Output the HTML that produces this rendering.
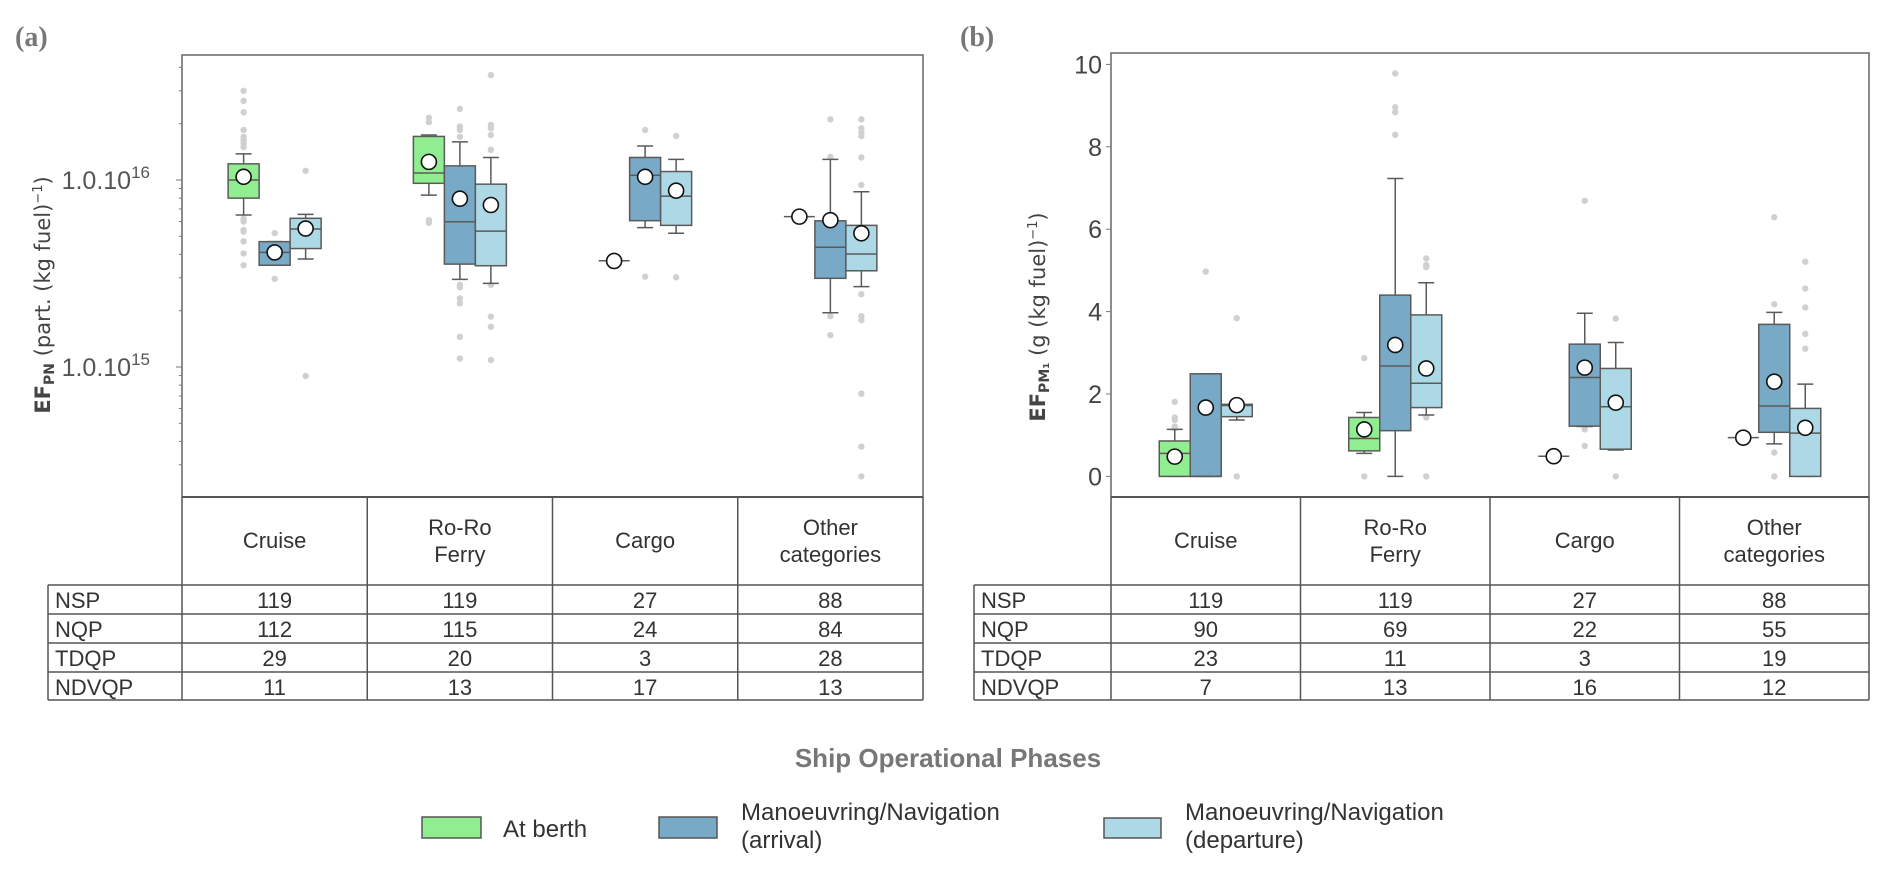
<!DOCTYPE html>
<html><head><meta charset="utf-8"><title>EF boxplots</title>
<style>
html,body{margin:0;padding:0;background:#fff;}
svg{display:block;font-family:"Liberation Sans Narrow","Liberation Sans",sans-serif;}
</style></head>
<body>
<svg id="chart" width="1892" height="876" viewBox="0 0 1892 876" xmlns="http://www.w3.org/2000/svg">
<rect x="0" y="0" width="1892" height="876" fill="#fff"/>
<text x="15" y="46" font-family="Liberation Serif,serif" font-weight="bold" font-size="28" fill="#777">(a)</text>
<text x="960" y="46" font-family="Liberation Serif,serif" font-weight="bold" font-size="28" fill="#777">(b)</text>
<g id="pa"></g>
<g id="pb"></g>
<text transform="translate(50,295) rotate(-90)" text-anchor="middle" font-family="DejaVu Sans,sans-serif" font-size="21" fill="#444"><tspan font-weight="bold">EF</tspan><tspan font-weight="bold" font-size="14" dy="4">PN</tspan><tspan dy="-4"> (part. (kg fuel)</tspan><tspan font-size="13" dy="-8">−1</tspan><tspan dy="8">)</tspan></text>
<text transform="translate(1045,317) rotate(-90)" text-anchor="middle" font-family="DejaVu Sans,sans-serif" font-size="21" fill="#444"><tspan font-weight="bold">EF</tspan><tspan font-weight="bold" font-size="14" dy="4">PM₁</tspan><tspan dy="-4"> (g (kg fuel)</tspan><tspan font-size="13" dy="-8">−1</tspan><tspan dy="8">)</tspan></text>
<text x="948" y="767" text-anchor="middle" font-weight="bold" font-size="26" fill="#777">Ship Operational Phases</text>
<g>
<rect x="422" y="817" width="59" height="21" fill="#90ee90" stroke="#555" stroke-width="1.5"/>
<text x="503" y="837" font-size="24" fill="#333">At berth</text>
<rect x="659" y="817" width="58" height="21" fill="#78a9c6" stroke="#555" stroke-width="1.5"/>
<text x="741" y="820" font-size="24" fill="#333">Manoeuvring/Navigation</text>
<text x="741" y="848" font-size="24" fill="#333">(arrival)</text>
<rect x="1104" y="818" width="57" height="20" fill="#add8e6" stroke="#555" stroke-width="1.5"/>
<text x="1185" y="820" font-size="24" fill="#333">Manoeuvring/Navigation</text>
<text x="1185" y="848" font-size="24" fill="#333">(departure)</text>
</g>
</svg>
<script>
// ---- categories / table data ----
const categories = [["Cruise"],["Ro-Ro","Ferry"],["Cargo"],["Other","categories"]];
const rowLabels = ["NSP","NQP","TDQP","NDVQP"];
const tableA = [[119,119,27,88],[112,115,24,84],[29,20,3,28],[11,13,17,13]];
const tableB = [[119,119,27,88],[90,69,22,55],[23,11,3,19],[7,13,16,12]];
// ---- panel a: [wLo, q1, median, q3, wHi, mean] per category ----
const aBerth = [[6.5e15,8.0e15,1.0e16,1.22e16,1.38e16,1.04e16],[8.3e15,9.6e15,1.09e16,1.71e16,1.74e16,1.25e16],[3.7e15,3.7e15,3.7e15,3.7e15,3.7e15,3.69e15],[6.37e15,6.37e15,6.37e15,6.37e15,6.37e15,6.37e15]];
const aArrival = [[3.5e15,3.5e15,4.1e15,4.68e15,4.68e15,4.1e15],[2.94e15,3.55e15,5.98e15,1.19e16,1.6e16,7.94e15],[5.56e15,6.06e15,1.06e16,1.32e16,1.52e16,1.04e16],[1.95e15,2.98e15,4.37e15,6.05e15,1.29e16,6.1e15]];
const aDeparture = [[3.78e15,4.3e15,5.47e15,6.24e15,6.55e15,5.5e15],[2.8e15,3.48e15,5.33e15,9.5e15,1.32e16,7.35e15],[5.19e15,5.72e15,8.2e15,1.11e16,1.29e16,8.77e15],[2.69e15,3.27e15,4.02e15,5.72e15,8.65e15,5.19e15]];
const aBerthOut = [[3.0e16,2.65e16,2.3e16,1.85e16,1.7e16,1.64e16,1.57e16,1.5e16,6.2e15,6.0e15,5.4e15,5.3e15,4.7e15,4.05e15,3.5e15],[2.15e16,2.04e16,6.1e15,5.9e15],[],[]];
const aArrivalOut = [[5.2e15,2.96e15],[2.4e16,1.93e16,1.85e16,1.7e16,2.75e15,2.67e15,2.33e15,2.19e15,1.45e15,1.11e15],[1.85e16,3.04e15],[2.11e16,1.33e16,1.87e15,1.48e15]];
const aDepartureOut = [[1.12e16,8.95e14],[3.64e16,1.97e16,1.89e16,1.74e16,1.45e16,2.75e15,1.86e15,1.64e15,1.09e15],[1.72e16,3.02e15],[2.11e16,1.89e16,1.79e16,1.72e16,1.32e16,9.4e15,2.45e15,1.87e15,1.78e15,7.2e14,3.75e14,2.6e14]];
// ---- panel b ----
const bBerth = [[0,0,0.56,0.86,1.14,0.48],[0.56,0.62,0.92,1.43,1.55,1.14],[0.49,0.49,0.49,0.49,0.49,0.49],[0.94,0.94,0.94,0.94,0.94,0.94]];
const bArrival = [[0,0,0,2.49,2.49,1.67],[0,1.11,2.68,4.4,7.23,3.19],[1.21,1.22,2.4,3.21,3.96,2.64],[0.79,1.07,1.71,3.69,3.98,2.3]];
const bDeparture = [[1.37,1.45,1.72,1.75,1.75,1.73],[1.49,1.67,2.26,3.92,4.7,2.62],[0.64,0.66,1.69,2.62,3.25,1.79],[0,0,1.05,1.65,2.24,1.18]];
const bBerthOut = [[1.81,1.43,1.37,1.21,1.17],[2.87,0],[],[]];
const bArrivalOut = [[4.97],[9.78,8.96,8.84,8.29],[6.69,1.14,0.74],[6.29,4.18,0.58,0]];
const bDepartureOut = [[3.84,0],[5.29,5.13,5.08,1.43,0],[3.83,0],[5.21,4.56,4.1,3.46,3.1]];
const bTicks = [0,2,4,6,8,10];
const aTicks = [1e15,1e16];

const NS="http://www.w3.org/2000/svg";
function el(parent,tag,attrs){const e=document.createElementNS(NS,tag);for(const k in attrs)e.setAttribute(k,attrs[k]);parent.appendChild(e);return e;}
const colors=["#90ee90","#78a9c6","#add8e6"];
const seriesNames=["berth","arrival","departure"];
const BW=31, EDGE="#5a5a5a";

function panel(g,opt){
  const {left,right,top,bottom,rowLeft,yf,series,outs,table}=opt;
  const colW=(right-left)/4;
  const cx=i=>left+colW*(i+0.5);
  const fr=el(g,'rect',{x:left,y:top,width:right-left,height:bottom-top,fill:'none',stroke:'#666','stroke-width':1.5});
  
  
  for(let s=0;s<3;s++){
    for(let i=0;i<4;i++){
      const x=cx(i)+(s-1)*BW;
      outs[s][i].forEach(v=>{
        const c=el(g,'circle',{cx:x,cy:yf(v),r:3.2,fill:'#d0d0d0'});
        
        
      });
      const d=series[s][i]; if(!d) continue;
      const [wl,q1,md,q3,wh,mn]=d;
      const bg=el(g,'g',{});
      
      
      el(bg,'line',{x1:x,x2:x,y1:yf(q3),y2:yf(wh),stroke:EDGE,'stroke-width':1.5});
      el(bg,'line',{x1:x,x2:x,y1:yf(q1),y2:yf(wl),stroke:EDGE,'stroke-width':1.5});
      el(bg,'line',{x1:x-8,x2:x+8,y1:yf(wh),y2:yf(wh),stroke:EDGE,'stroke-width':1.5});
      el(bg,'line',{x1:x-8,x2:x+8,y1:yf(wl),y2:yf(wl),stroke:EDGE,'stroke-width':1.5});
      const h=Math.max(0,yf(q1)-yf(q3));
      if(h>0.5) el(bg,'rect',{x:x-BW/2,y:yf(q3),width:BW,height:h,fill:colors[s],stroke:EDGE,'stroke-width':1.5});
      el(bg,'line',{x1:x-BW/2,x2:x+BW/2,y1:yf(md),y2:yf(md),stroke:EDGE,'stroke-width':1.5});
      const m=el(bg,'ellipse',{cx:x,cy:yf(mn),rx:7.5,ry:7.5,fill:'#fff',stroke:'#111','stroke-width':1.6});
      
      
    }
  }
  const t=el(g,'g',{});
  
  
  const hb=585, rows=[585,614,643,672,700];
  el(t,'line',{x1:left,x2:right,y1:bottom,y2:bottom,stroke:'#555','stroke-width':2});
  for(let k=0;k<=4;k++) el(t,'line',{x1:left+colW*k,x2:left+colW*k,y1:bottom,y2:700,stroke:'#555','stroke-width':1.5});
  el(t,'line',{x1:rowLeft,x2:rowLeft,y1:hb,y2:700,stroke:'#555','stroke-width':1.5});
  rows.forEach(y=>el(t,'line',{x1:rowLeft,x2:right,y1:y,y2:y,stroke:'#555','stroke-width':1.5}));
  categories.forEach((c,i)=>{
    const tx=el(t,'text',{x:cx(i),'text-anchor':'middle','font-size':22,fill:'#333'});
    
    
    const y0=c.length==1?548:535;
    c.forEach((line,j)=>{const ts=el(tx,'tspan',{x:cx(i),y:y0+j*27});ts.textContent=line;});
  });
  rowLabels.forEach((r,k)=>{
    const yy=rows[k]+23;
    const lt=el(t,'text',{x:rowLeft+7,y:yy,'font-size':22,fill:'#333'});
    
    
    lt.textContent=r;
    table[k].forEach((v,i)=>{
      const vt=el(t,'text',{x:cx(i),y:yy,'text-anchor':'middle','font-size':22,fill:'#333'});
      
      
      vt.textContent=v;
    });
  });
}

// Panel A (log)
const ya=v=>180-187*Math.log10(v/1e16);
const gA=document.getElementById('pa');
panel(gA,{left:182,right:923,top:55,bottom:497,rowLeft:48,yf:ya,series:[aBerth,aArrival,aDeparture],outs:[aBerthOut,aArrivalOut,aDepartureOut],table:tableA});
for(let e=14;e<=16;e++){for(let m=1;m<10;m++){const v=m*Math.pow(10,e);const y=ya(v);if(y<55||y>497)continue;
  el(gA,'line',{x1:182,x2:m==1?176:179,y1:y,y2:y,stroke:'#777','stroke-width':1});}}
aTicks.forEach(v=>{
  const tx=el(gA,'text',{x:150,y:ya(v)+9,'text-anchor':'end','font-size':25,fill:'#555'});
  
  
  const a=el(tx,'tspan',{});a.textContent='1.0.10';
  const b=el(tx,'tspan',{'font-size':17,dy:-11});b.textContent=String(Math.round(Math.log10(v)));
});

// Panel B (linear)
const yb=v=>476.4-41.2*v;
const gB=document.getElementById('pb');
panel(gB,{left:1111,right:1869,top:53,bottom:497,rowLeft:974,yf:yb,series:[bBerth,bArrival,bDeparture],outs:[bBerthOut,bArrivalOut,bDepartureOut],table:tableB});
bTicks.forEach(v=>{
  el(gB,'line',{x1:1111,x2:1106,y1:yb(v),y2:yb(v),stroke:'#777','stroke-width':1});
  const tx=el(gB,'text',{x:1102,y:yb(v)+9,'text-anchor':'end','font-size':25,fill:'#444'});
  
  
  tx.textContent=v;
});
</script>
</body></html>
